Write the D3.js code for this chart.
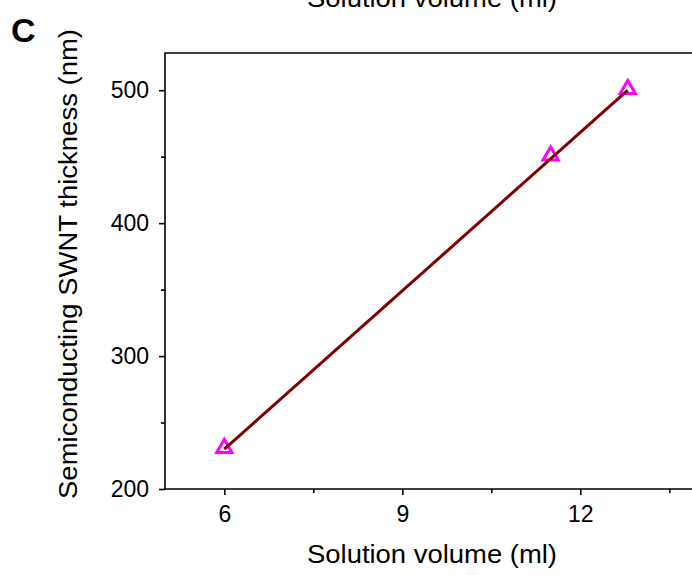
<!DOCTYPE html>
<html><head><meta charset="utf-8">
<script src="https://cdn.jsdelivr.net/npm/d3@7"></script>
<style>body{margin:0;background:#fff}svg{display:block}text{font-family:"Liberation Sans",Arial,sans-serif}</style>
</head><body>
<svg id="c" width="692" height="575"></svg>
<script>
const volumes = [6, 11.5, 12.8];
const thickness = [230, 450, 500];
const fitX = [6, 12.8];
const fitY = [230, 500];
const xTicks = [6, 9, 12];
const xMinor = [7.5, 10.5, 13.5];
const yTicks = [200, 300, 400, 500];
const yMinor = [250, 350, 450];
const xTitle = "Solution volume (ml)";
const yTitle = "Semiconducting SWNT thickness (nm)";

const svg = d3.select("#c");
const L = 165, T = 53, B = 489;
const x = d3.scaleLinear().domain([5, 14]).range([L, L + 9 * 59.33]);
const y = d3.scaleLinear().domain([200, 528]).range([B, T]);
const R = x(14);

svg.append("path").attr("d", `M${L},${B}V${T}H${R}V${B}Z`).attr("fill", "none").attr("stroke", "#000").attr("stroke-width", 1.6);

const gx = svg.append("g").attr("transform", `translate(0,${B})`)
  .call(d3.axisBottom(x).tickValues(xTicks).tickSize(6).tickPadding(11).tickFormat(d3.format("d")));
const gxm = svg.append("g").attr("transform", `translate(0,${B})`)
  .call(d3.axisBottom(x).tickValues(xMinor).tickSize(4).tickFormat(""));
const gy = svg.append("g").attr("transform", `translate(${L},0)`)
  .call(d3.axisLeft(y).tickValues(yTicks).tickSize(6).tickPadding(10).tickFormat(d3.format("d")));
const gym = svg.append("g").attr("transform", `translate(${L},0)`)
  .call(d3.axisLeft(y).tickValues(yMinor).tickSize(4).tickFormat(""));
[gx, gxm, gy, gym].forEach(g => {
  g.attr("font-size", 23).attr("font-family", '"Liberation Sans",Arial,sans-serif');
  g.select(".domain").remove();
  g.selectAll("line").attr("stroke", "#000").attr("stroke-width", 1.6);
  g.selectAll("text").attr("font-size", 23).attr("fill", "#000");
});

const tri = d3.symbol().type(d3.symbolTriangle).size(100);
svg.append("g").selectAll("path").data(volumes).join("path")
  .attr("d", tri)
  .attr("transform", (d, i) => `translate(${x(d)},${y(thickness[i]) - 1})`)
  .attr("fill", "none").attr("stroke", "#ff00ff").attr("stroke-width", 3);

svg.append("path").datum(fitX.map((v, i) => [v, fitY[i]]))
  .attr("d", d3.line().x(d => x(d[0])).y(d => y(d[1])))
  .attr("fill", "none").attr("stroke", "#800000").attr("stroke-width", 3);

svg.append("text").attr("x", 432).attr("y", 563).attr("text-anchor", "middle").attr("font-size", 25)
  .attr("textLength", 250).attr("lengthAdjust", "spacingAndGlyphs").text(xTitle);
svg.append("text").attr("x", 432).attr("y", 7).attr("text-anchor", "middle").attr("font-size", 25)
  .attr("textLength", 250).attr("lengthAdjust", "spacingAndGlyphs").text(xTitle);
svg.append("text").attr("transform", "translate(77,264) rotate(-90)").attr("text-anchor", "middle").attr("font-size", 25)
  .attr("textLength", 470).attr("lengthAdjust", "spacingAndGlyphs").text(yTitle);
svg.append("text").attr("x", 11).attr("y", 42).attr("font-size", 34).attr("font-weight", "bold").text("C");
</script>
</body></html>
